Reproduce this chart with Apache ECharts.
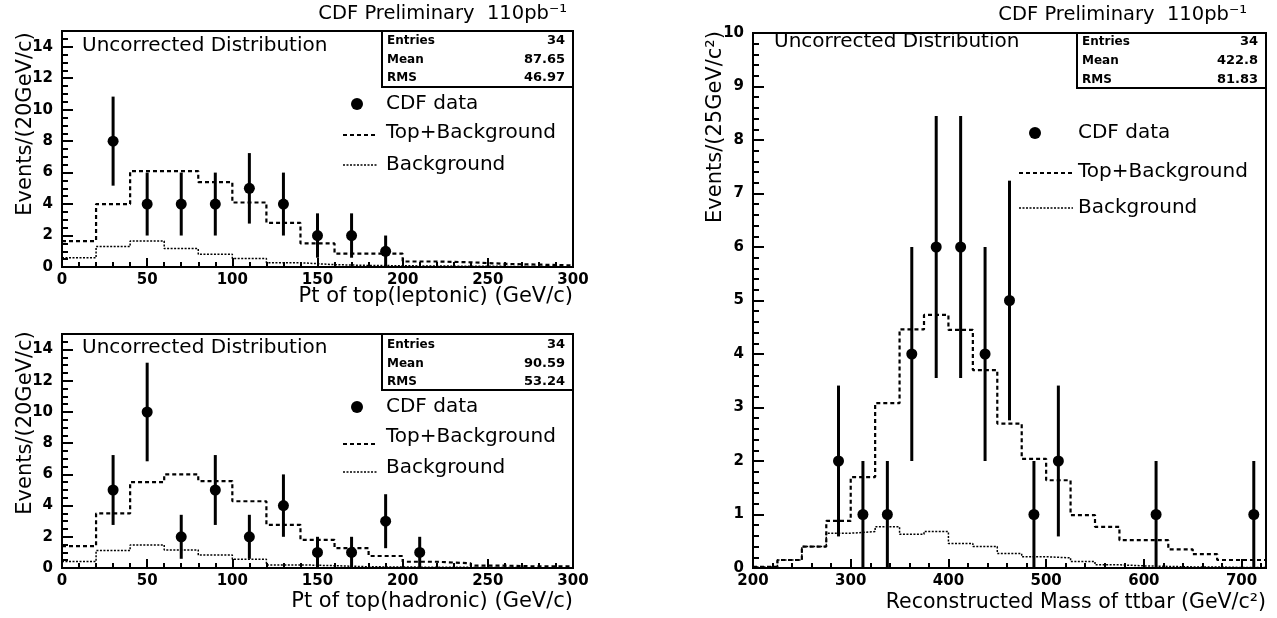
<!DOCTYPE html>
<html>
<head>
<meta charset="utf-8">
<script src="https://cdn.jsdelivr.net/npm/echarts@6/dist/echarts.min.js"></script>
<style>html,body{margin:0;background:#fff}#main{width:1277px;height:618px}</style>
</head>
<body>
<div id="main"></div>
<script>
// Pt of top (leptonic), 20 GeV bins from 0 to 300
var lepTopBkg = [1.65, 4.0, 6.1, 6.1, 5.4, 4.1, 2.8, 1.5, 0.85, 0.85, 0.35, 0.3, 0.2, 0.15, 0.1];
var lepBkg = [0.58, 1.3, 1.65, 1.17, 0.81, 0.54, 0.27, 0.15, 0.1, 0.08, 0.06, 0.05, 0.04, 0.03, 0.02];
var lepX = [30, 50, 70, 90, 110, 130, 150, 170, 190];
var lepN = [8, 4, 4, 4, 5, 4, 2, 2, 1];
var lepErr = [2.83, 2, 2, 2, 2.24, 2, 1.41, 1.41, 1];
var lepStats = ['34', '87.65', '46.97'];

// Pt of top (hadronic), 20 GeV bins from 0 to 300
var hadTopBkg = [1.4, 3.5, 5.5, 6.0, 5.57, 4.28, 2.77, 1.8, 1.27, 0.77, 0.4, 0.3, 0.15, 0.1, 0.1];
var hadBkg = [0.41, 1.12, 1.48, 1.16, 0.84, 0.56, 0.2, 0.15, 0.08, 0.06, 0.05, 0.04, 0.03, 0.02, 0.02];
var hadX = [30, 50, 70, 90, 110, 130, 150, 170, 190, 210];
var hadN = [5, 10, 2, 5, 2, 4, 1, 1, 3, 1];
var hadErr = [2.24, 3.16, 1.41, 2.24, 1.41, 2, 1, 1, 1.73, 1];
var hadStats = ['34', '90.59', '53.24'];

// Reconstructed mass of ttbar, 25 GeV bins from 200 to 725
var massTopBkg = [0.02, 0.15, 0.4, 0.88, 1.7, 3.08, 4.46, 4.73, 4.45, 3.7, 2.7, 2.04, 1.64, 0.99, 0.77, 0.52, 0.52, 0.35, 0.26, 0.15, 0.15];
var massBkg = [0.02, 0.15, 0.4, 0.65, 0.68, 0.77, 0.63, 0.68, 0.46, 0.4, 0.27, 0.21, 0.19, 0.12, 0.06, 0.04, 0.03, 0.02, 0.02, 0.01, 0.01];
var massX = [287.5, 312.5, 337.5, 362.5, 387.5, 412.5, 437.5, 462.5, 487.5, 512.5, 612.5, 712.5];
var massN = [2, 1, 1, 4, 6, 6, 4, 5, 1, 2, 1, 1];
var massErr = [1.41, 1, 1, 2, 2.45, 2.45, 2, 2.24, 1, 1.41, 1, 1];
var massStats = ['34', '422.8', '81.83'];

var statNames = ['Entries', 'Mean', 'RMS'];

var FONT = 'DejaVu Sans';

function histSteps(lo, width, vals) {
  var d = vals.map(function (v, i) { return [lo + i * width, v]; });
  d.push([lo + vals.length * width, vals[vals.length - 1]]);
  return d;
}

function xAxisCfg(idx, min, max, interval) {
  return {
    type: 'value', gridIndex: idx, min: min, max: max, interval: interval,
    axisLine: { show: true, lineStyle: { color: '#000', width: 2 } },
    axisTick: { show: true, inside: true, length: 9, lineStyle: { color: '#000', width: 2 } },
    minorTick: { show: true, splitNumber: 5, length: 5, lineStyle: { color: '#000', width: 2 } },
    axisLabel: { color: '#000', fontFamily: FONT, fontWeight: 'bold', fontSize: 15, margin: 6, showMaxLabel: max % interval === 0 },
    splitLine: { show: false }
  };
}

function yAxisCfg(idx, max, interval, minorSplit) {
  return {
    type: 'value', gridIndex: idx, min: 0, max: max, interval: interval,
    axisLine: { show: true, lineStyle: { color: '#000', width: 2 } },
    axisTick: { show: true, inside: true, length: 11, lineStyle: { color: '#000', width: 2 } },
    minorTick: { show: true, splitNumber: minorSplit, length: 6, lineStyle: { color: '#000', width: 2 } },
    axisLabel: { color: '#000', fontFamily: FONT, fontWeight: 'bold', fontSize: 15, margin: 9, showMaxLabel: max % interval === 0 },
    splitLine: { show: false }
  };
}

function errorSeries(idx, xs, ns, errs) {
  return {
    type: 'custom', xAxisIndex: idx, yAxisIndex: idx,
    data: xs.map(function (x, i) { return [x, ns[i] - errs[i], ns[i] + errs[i]]; }),
    encode: { x: 0, y: [1, 2] },
    renderItem: function (params, api) {
      var lo = api.coord([api.value(0), api.value(1)]);
      var hi = api.coord([api.value(0), api.value(2)]);
      return { type: 'line', shape: { x1: lo[0], y1: lo[1], x2: hi[0], y2: hi[1] }, style: { stroke: '#000', lineWidth: 3 } };
    },
    z: 4
  };
}

function panelSeries(idx, lo, width, topBkg, bkg, xs, ns, errs) {
  return [
    { type: 'line', xAxisIndex: idx, yAxisIndex: idx, step: 'end', symbol: 'none', data: histSteps(lo, width, bkg),
      lineStyle: { color: '#000', width: 1.5, type: [2, 1.5] }, z: 2 },
    { type: 'line', xAxisIndex: idx, yAxisIndex: idx, step: 'end', symbol: 'none', data: histSteps(lo, width, topBkg),
      lineStyle: { color: '#000', width: 2.2, type: [4, 3] }, z: 3 },
    errorSeries(idx, xs, ns, errs),
    { type: 'scatter', xAxisIndex: idx, yAxisIndex: idx, symbol: 'circle', symbolSize: 11,
      data: xs.map(function (x, i) { return [x, ns[i]]; }), itemStyle: { color: '#000', opacity: 1 }, z: 5 }
  ];
}

function txt(x, y, s, size, opts) {
  opts = opts || {};
  return {
    type: 'text', x: x, y: y, rotation: opts.rot || 0,
    style: { text: s, fill: '#000', font: (opts.weight || 'normal') + ' ' + size + 'px "' + FONT + '"',
      textAlign: opts.align || 'left', textVerticalAlign: 'middle' },
    z: 10
  };
}

function statsBox(x, y, w, h, rowsY, vals) {
  var els = [{ type: 'rect', shape: { x: x, y: y, width: w, height: h }, style: { fill: '#fff', stroke: '#000', lineWidth: 2 }, z: 9 }];
  for (var i = 0; i < 3; i++) {
    els.push(txt(x + 5, rowsY[i], statNames[i], 12, { weight: 'bold' }));
    els.push(txt(x + w - 8, rowsY[i], vals[i], 13, { weight: 'bold', align: 'right' }));
  }
  return els;
}

function legend(dotX, lineX1, lineX2, textX, ys, lineYs) {
  return [
    { type: 'circle', shape: { cx: dotX, cy: ys[0], r: 6 }, style: { fill: '#000' }, z: 10 },
    txt(textX, ys[0], 'CDF data', 20),
    { type: 'line', shape: { x1: lineX1, y1: lineYs[0], x2: lineX2, y2: lineYs[0] }, style: { stroke: '#000', lineWidth: 2.2, lineDash: [4, 3] }, z: 10 },
    txt(textX, ys[1], 'Top+Background', 20),
    { type: 'line', shape: { x1: lineX1, y1: lineYs[1], x2: lineX2, y2: lineYs[1] }, style: { stroke: '#000', lineWidth: 1.5, lineDash: [2, 1.5] }, z: 10 },
    txt(textX, ys[2], 'Background', 20)
  ];
}

var graphics = []
  .concat([
    txt(567, 14, 'CDF Preliminary  110pb⁻¹', 19.5, { align: 'right' }),
    txt(1247, 15, 'CDF Preliminary  110pb⁻¹', 19.5, { align: 'right' }),
    txt(82, 46, 'Uncorrected Distribution', 20),
    txt(82, 348, 'Uncorrected Distribution', 20),
    txt(774, 42, 'Uncorrected Distribution', 20),
    txt(26, 124, 'Events/(20GeV/c)', 21, { rot: Math.PI / 2, align: 'center' }),
    txt(26, 423, 'Events/(20GeV/c)', 21, { rot: Math.PI / 2, align: 'center' }),
    txt(716, 127, 'Events/(25GeV/c²)', 21, { rot: Math.PI / 2, align: 'center' }),
    txt(573, 297, 'Pt of top(leptonic) (GeV/c)', 21, { align: 'right' }),
    txt(573, 602, 'Pt of top(hadronic) (GeV/c)', 21, { align: 'right' }),
    txt(1266, 603, 'Reconstructed Mass of ttbar (GeV/c²)', 20.5, { align: 'right' })
  ])
  .concat(statsBox(382, 31, 191, 56, [41, 60, 78], lepStats))
  .concat(statsBox(382, 334, 191, 56, [345, 364, 382], hadStats))
  .concat(statsBox(1077, 33, 189, 55, [42, 61, 80], massStats))
  .concat(legend(357, 343, 377, 386, [104, 133, 165], [135, 165]))
  .concat(legend(357, 343, 377, 386, [407, 437, 468], [444, 472]))
  .concat(legend(1035, 1019, 1073, 1078, [133, 172, 208], [173, 208]));

var myChart = echarts.init(document.getElementById('main'));

var option = {
  backgroundColor: '#fff',
  animation: false,
  grid: [
    { left: 62, top: 31, width: 511, height: 236, show: true, borderColor: '#000', borderWidth: 2 },
    { left: 62, top: 334, width: 511, height: 234, show: true, borderColor: '#000', borderWidth: 2 },
    { left: 753, top: 33, width: 513, height: 535, show: true, borderColor: '#000', borderWidth: 2 }
  ],
  xAxis: [
    xAxisCfg(0, 0, 300, 50),
    xAxisCfg(1, 0, 300, 50),
    xAxisCfg(2, 200, 725, 100)
  ],
  yAxis: [
    yAxisCfg(0, 15, 2, 4),
    yAxisCfg(1, 15, 2, 4),
    yAxisCfg(2, 10, 1, 5)
  ],
  series: []
    .concat(panelSeries(0, 0, 20, lepTopBkg, lepBkg, lepX, lepN, lepErr))
    .concat(panelSeries(1, 0, 20, hadTopBkg, hadBkg, hadX, hadN, hadErr))
    .concat(panelSeries(2, 200, 25, massTopBkg, massBkg, massX, massN, massErr)),
  graphic: graphics
};

myChart.setOption(option);
</script>
</body>
</html>
